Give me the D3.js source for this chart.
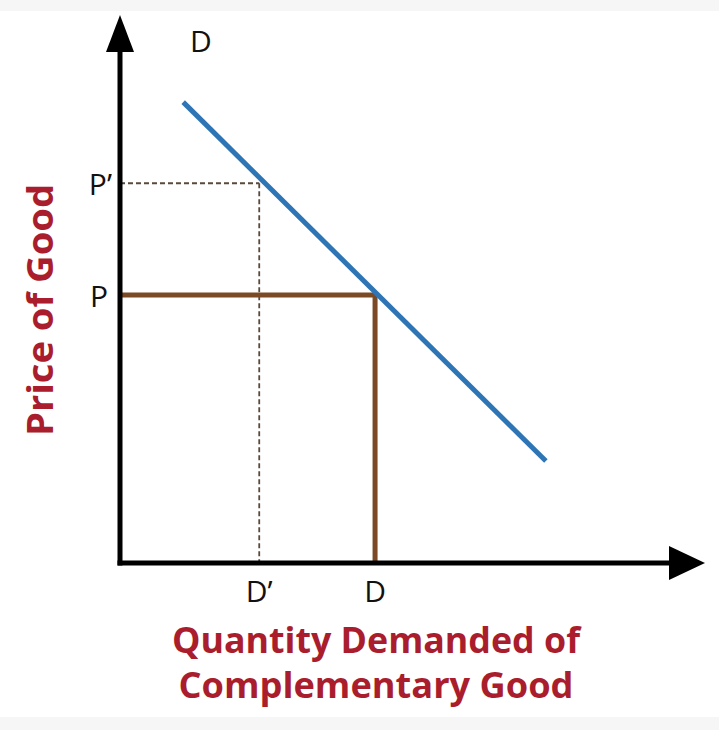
<!DOCTYPE html>
<html><head><meta charset="utf-8">
<script src="https://cdn.jsdelivr.net/npm/d3@7"></script>
<style>html,body{margin:0;padding:0;background:#f6f6f6;}svg{display:block;}</style>
</head><body>
<script>
// Data (abstract units 0..10 on both axes)
const demandLine = [{q: 1.08, p: 8.41}, {q: 7.28, p: 1.86}];
const priceLevels = [{label: "P", p: 4.89}, {label: "P\u2019", p: 6.93}];
const quantityLevels = [{label: "D", q: 4.36}, {label: "D\u2019", q: 2.38}];
const curveLabel = "D";
const xTitle = ["Quantity Demanded of", "Complementary Good"];
const yTitle = "Price of Good";

const W = 719, H = 730;
const svg = d3.select("body").append("svg").attr("width", W).attr("height", H);
svg.append("rect").attr("x", 0).attr("y", 11).attr("width", W).attr("height", 706).attr("fill", "#ffffff");

const x = d3.scaleLinear().domain([0, 10]).range([120, 705]);
const y = d3.scaleLinear().domain([0, 10]).range([563, 15]);

const font = "'Open Sans', 'Liberation Sans', sans-serif";
const red = "#a91d2d";
const brown = "#7b4a24";

// dashed guides for P' / D'
const pP = priceLevels[1].p, qP = quantityLevels[1].q;
svg.append("line").attr("x1", x(0)).attr("x2", x(qP)).attr("y1", y(pP)).attr("y2", y(pP))
  .attr("stroke", "#5a4a3a").attr("stroke-width", 1.8).attr("stroke-dasharray", "5,3");
svg.append("line").attr("x1", x(qP)).attr("x2", x(qP)).attr("y1", y(pP)).attr("y2", y(0))
  .attr("stroke", "#5a4a3a").attr("stroke-width", 1.8).attr("stroke-dasharray", "5,3");

// solid brown guides for P / D
const p0 = priceLevels[0].p, q0 = quantityLevels[0].q;
svg.append("path").attr("d", `M${x(0)},${y(p0)}H${x(q0)}V${y(0)}`)
  .attr("fill", "none").attr("stroke", brown).attr("stroke-width", 5);

// demand curve
svg.append("line")
  .attr("x1", x(demandLine[0].q)).attr("y1", y(demandLine[0].p))
  .attr("x2", x(demandLine[1].q)).attr("y2", y(demandLine[1].p))
  .attr("stroke", "#2e75b6").attr("stroke-width", 5);

// axes
svg.append("line").attr("x1", x(0)).attr("x2", x(0)).attr("y1", y(0) + 2.5).attr("y2", y(10) + 30)
  .attr("stroke", "#000").attr("stroke-width", 5);
svg.append("line").attr("x1", x(0) - 2.5).attr("x2", x(10) - 30).attr("y1", y(0)).attr("y2", y(0))
  .attr("stroke", "#000").attr("stroke-width", 5);
// arrowheads
svg.append("path").attr("d", `M${x(0)},${y(10)}L${x(0) + 14},${y(10) + 37}L${x(0) - 14},${y(10) + 37}Z`).attr("fill", "#000");
svg.append("path").attr("d", `M${x(10)},${y(0)}L${x(10) - 36},${y(0) - 17}L${x(10) - 36},${y(0) + 17}Z`).attr("fill", "#000");

// tick labels
svg.selectAll("text.pl").data(priceLevels).enter().append("text")
  .attr("x", d => x(0) - (d.label === "P" ? 12 : 8)).attr("y", d => y(d.p) + 12).attr("text-anchor", "end")
  .attr("font-family", font).attr("font-size", 30).attr("fill", "#111").text(d => d.label);
svg.selectAll("text.ql").data(quantityLevels).enter().append("text")
  .attr("x", d => x(d.q)).attr("y", y(0) + 39).attr("text-anchor", "middle")
  .attr("font-family", font).attr("font-size", 30).attr("fill", "#111").text(d => d.label);

// curve label
svg.append("text").attr("x", 201).attr("y", 52).attr("text-anchor", "middle")
  .attr("font-family", font).attr("font-size", 30).attr("fill", "#111").text(curveLabel);

// axis titles
svg.append("text").attr("transform", "translate(53,310) rotate(-90)").attr("text-anchor", "middle")
  .attr("font-family", font).attr("font-weight", "bold").attr("font-size", 35).attr("fill", red)
  .attr("textLength", 252).attr("lengthAdjust", "spacingAndGlyphs").text(yTitle);
const xtLens = [408, 395];
svg.selectAll("text.xt").data(xTitle).enter().append("text")
  .attr("x", 376).attr("y", (d, i) => 653 + i * 45).attr("text-anchor", "middle")
  .attr("font-family", font).attr("font-weight", "bold").attr("font-size", 35).attr("fill", red)
  .attr("textLength", (d, i) => xtLens[i]).attr("lengthAdjust", "spacingAndGlyphs").text(d => d);
</script>
</body></html>
